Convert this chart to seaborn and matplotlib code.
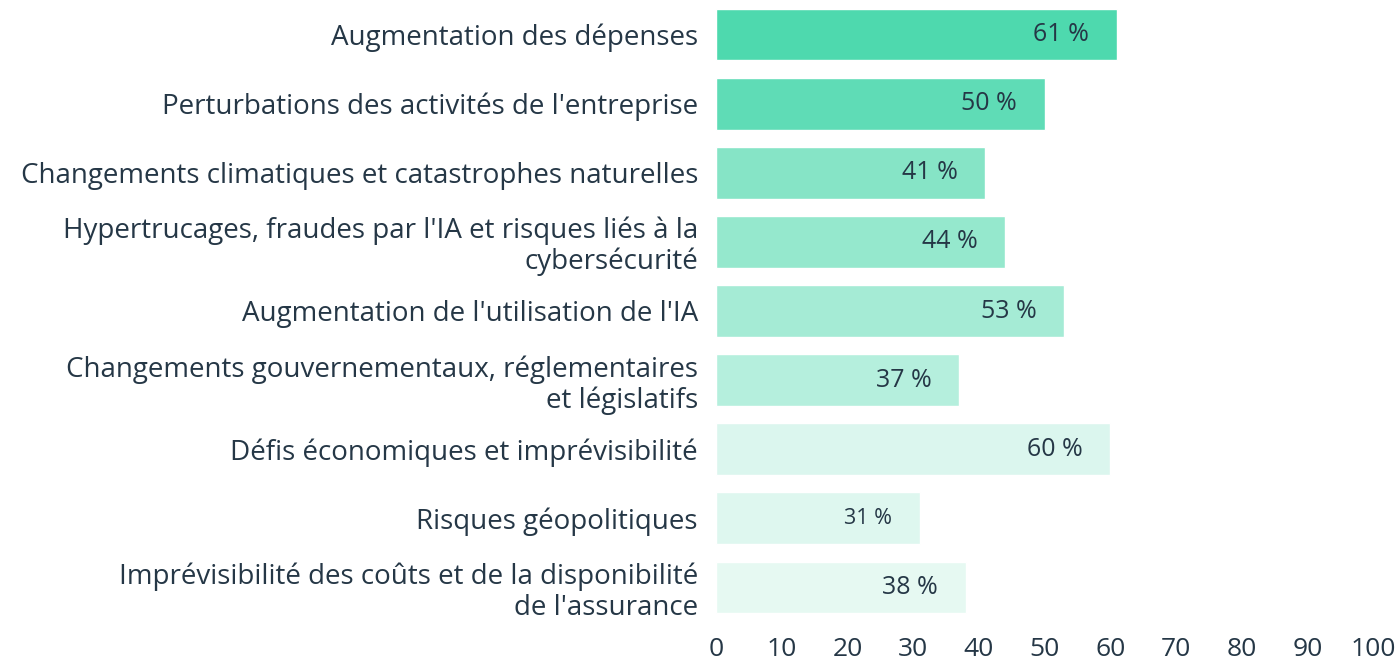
import matplotlib
matplotlib.use("Agg")
import matplotlib.pyplot as plt
import seaborn as sns
import pandas as pd

categories = [
    "Augmentation des dépenses",
    "Perturbations des activités de l'entreprise",
    "Changements climatiques et catastrophes naturelles",
    "Hypertrucages, fraudes par l'IA et risques liés à la\ncybersécurité",
    "Augmentation de l'utilisation de l'IA",
    "Changements gouvernementaux, réglementaires\net législatifs",
    "Défis économiques et imprévisibilité",
    "Risques géopolitiques",
    "Imprévisibilité des coûts et de la disponibilité\nde l'assurance",
]
values = [61, 50, 41, 44, 53, 37, 60, 31, 38]
colors = ["#4ed9ae", "#5fdcb6", "#86e4c6", "#95e8cd", "#a5ebd5",
          "#b5efdd", "#dbf6ee", "#def7ef", "#e6f9f2"]
xticks = [0, 10, 20, 30, 40, 50, 60, 70, 80, 90, 100]

sns.set_theme(style="white")
plt.rcParams['font.family'] = ['Open Sans', 'DejaVu Sans']
text_color = "#253746"

df = pd.DataFrame({"cat": categories, "val": values})
fig = plt.figure(figsize=(13.99, 6.68), dpi=100)
ax = fig.add_axes([716/1399, 1 - 622/668, (1373-716)/1399, 622/668])
sns.barplot(data=df, y="cat", x="val", hue="cat", palette=colors,
            legend=False, width=0.75, saturation=1, ax=ax, orient="h")

for i, (v, c) in enumerate(zip(values, categories)):
    fs = 15.5 if v == 31 else 18
    ax.text(v - 4.2, i, f"{v} %", ha="right", va="center",
            fontsize=fs, color=text_color)

ax.set_xlim(0, 100)
ax.set_ylim(8.5, -0.5)
ax.set_xticks(xticks)
ax.set_xticklabels([str(t) for t in xticks])
ax.set_xlabel("")
ax.set_ylabel("")
for s in ax.spines.values():
    s.set_visible(False)
ax.tick_params(axis="x", length=0, pad=11, labelsize=19, labelcolor=text_color)
ax.tick_params(axis="y", length=0, pad=13, labelsize=20, labelcolor=text_color)
for lbl in ax.get_yticklabels():
    lbl.set_linespacing(1.12)
    lbl.set_ha("right")

fig.savefig("out.png", dpi=100, facecolor="white")
